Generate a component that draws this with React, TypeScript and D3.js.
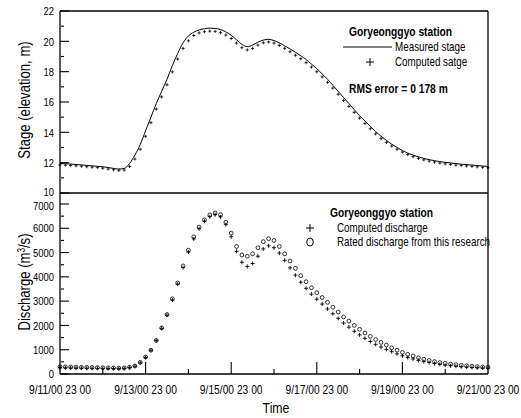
import React from 'react';
import * as d3 from 'd3';

// Hydrograph record, sampled every 3 hours from 9/11/00 23:00 to 9/21/00 23:00
const START = new Date(2000, 8, 11, 23, 0);
const STEP_HOURS = 3;

const measuredStage = [
  11.95, 11.93, 11.91, 11.88, 11.85, 11.82, 11.79, 11.76, 11.73, 11.68,
  11.62, 11.58, 11.62, 11.95, 12.5, 13.2, 14.1, 15.0, 15.9, 16.7,
  17.5, 18.4, 19.2, 19.9, 20.35, 20.6, 20.75, 20.83, 20.87, 20.85,
  20.78, 20.62, 20.4, 20.1, 19.8, 19.65, 19.75, 19.95, 20.08, 20.13,
  20.05, 19.9, 19.7, 19.5, 19.28, 19.05, 18.8, 18.5, 18.2, 17.85,
  17.5, 17.1, 16.7, 16.3, 15.9, 15.5, 15.1, 14.75, 14.4, 14.05,
  13.75, 13.47, 13.22, 13.0, 12.8, 12.63, 12.5, 12.38, 12.28, 12.2,
  12.13, 12.07, 12.02, 11.98, 11.94, 11.9, 11.87, 11.84, 11.81, 11.78,
  11.75,
];

const computedStage = [
  11.92, 11.9, 11.88, 11.86, 11.83, 11.8, 11.77, 11.74, 11.7, 11.65,
  11.6, 11.56, 11.58, 11.82, 12.3, 12.95, 13.8, 14.7, 15.6, 16.4,
  17.2, 18.05, 18.9, 19.6, 20.1, 20.45, 20.62, 20.7, 20.74, 20.72,
  20.64, 20.48, 20.25, 19.95, 19.65, 19.5, 19.6, 19.82, 19.97, 20.02,
  19.95, 19.8, 19.6, 19.38, 19.15, 18.92, 18.66, 18.37, 18.06, 17.72,
  17.36, 16.98, 16.58, 16.18, 15.78, 15.38, 15.0, 14.65, 14.3, 13.97,
  13.67, 13.4, 13.16, 12.95, 12.76, 12.6, 12.46, 12.35, 12.25, 12.17,
  12.1, 12.04, 11.99, 11.95, 11.91, 11.88, 11.85, 11.82, 11.79, 11.76,
  11.73,
];

const ratedDischarge = [
  300, 295, 290, 285, 280, 275, 270, 265, 260, 255,
  250, 245, 250, 280, 330, 480, 700, 980, 1380, 1900,
  2450, 3100, 3750, 4450, 5100, 5650, 6050, 6350, 6550, 6630,
  6560, 6250, 5800, 5250, 4900, 4850, 4950, 5200, 5450, 5570,
  5500, 5250, 4950, 4650, 4350, 4050, 3800, 3550, 3350, 3150,
  2950, 2750, 2550, 2350, 2180, 2000, 1840, 1690, 1550, 1420,
  1300, 1190, 1080, 980, 890, 810, 740, 670, 610, 560,
  510, 470, 440, 410, 385, 360, 340, 320, 305, 290,
  280,
];

const computedDischarge = [
  260, 255, 250, 245, 240, 238, 235, 232, 230, 228,
  225, 222, 230, 265, 320, 460, 680, 980, 1380, 1880,
  2420, 3050, 3700, 4380, 5020, 5560, 5980, 6290, 6480, 6560,
  6470, 6150, 5650, 5050, 4600, 4430, 4550, 4850, 5150, 5280,
  5200, 4980, 4680, 4370, 4070, 3780, 3530, 3290, 3080, 2880,
  2680, 2480, 2290, 2100, 1930, 1760, 1610, 1470, 1340, 1220,
  1110, 1010, 920, 830, 750, 680, 620, 560, 510, 470,
  430, 395, 365, 340, 320, 300, 285, 270, 258, 248,
  240,
];

const stageTicks = [10, 12, 14, 16, 18, 20, 22];
const dischargeTicks = [0, 1000, 2000, 3000, 4000, 5000, 6000, 7000];
const dateTickLabels = [
  '9/11/00 23 00', '9/13/00 23 00', '9/15/00 23 00',
  '9/17/00 23 00', '9/19/00 23 00', '9/21/00 23 00',
];

const FONT = '"Liberation Sans", Arial, sans-serif';
const SQUEEZE = 0.82;

const W = 521;
const H = 418;
const LEFT = 60;
const RIGHT = 488;
const TOP = 11;
const MID = 193;
const BOTTOM = 374;

const timeAt = (i: number) => d3.timeHour.offset(START, i * STEP_HOURS);
const END = d3.timeDay.offset(START, 10);

const x = d3.scaleTime().domain([START, END]).range([LEFT, RIGHT]);
const yStage = d3.scaleLinear().domain([10, 22]).range([MID, TOP]);
const yQ = d3.scaleLinear().domain([0, 7000]).range([BOTTOM, 204]);

function Plus({ cx, cy, r, sw = 0.9 }: { cx: number; cy: number; r: number; sw?: number }) {
  return (
    <path
      d={`M${cx - r},${cy}H${cx + r}M${cx},${cy - r}V${cy + r}`}
      stroke="#000"
      strokeWidth={sw}
      fill="none"
    />
  );
}

// Condensed text: horizontally squeezed around its anchor point
function NText({
  x: tx,
  y: ty,
  size,
  anchor = 'start',
  bold = false,
  rotate = false,
  children,
}: {
  x: number;
  y: number;
  size: number;
  anchor?: 'start' | 'middle' | 'end';
  bold?: boolean;
  rotate?: boolean;
  children: React.ReactNode;
}) {
  return (
    <text
      transform={`translate(${tx},${ty})${rotate ? ' rotate(-90)' : ''} scale(${SQUEEZE},1)`}
      textAnchor={anchor}
      fontSize={size}
      fontWeight={bold ? 'bold' : 'normal'}
      fill="#000"
    >
      {children}
    </text>
  );
}

export default function App() {
  const stageLine = d3
    .line<number>()
    .x((_, i) => x(timeAt(i)))
    .y((d) => yStage(d))
    .curve(d3.curveMonotoneX)(measuredStage) as string;

  const days = d3.range(1, 10).map((d) => d3.timeDay.offset(START, d));
  const labelDates = dateTickLabels.map((_, i) => d3.timeDay.offset(START, i * 2));

  const stageMinor = d3.range(11, 22, 2);
  const qMinor = d3.range(500, 7500, 1000);

  // the shared panel boundary crowds "10" and "7000"; nudge them apart
  const stageLabelY = (t: number) => yStage(t) + 4.2 - (t === 10 ? 1.5 : 0);
  const qLabelY = (t: number) => yQ(t) + 4.2 + (t === 7000 ? 1.5 : 0);

  return (
    <svg
      width={W}
      height={H}
      style={{ position: 'absolute', left: 0, top: 0, background: '#fff' }}
      fontFamily={FONT}
    >
      <rect x={0} y={0} width={W} height={H} fill="#fff" />

      {/* panel frames */}
      <g stroke="#000" strokeWidth={1.3} fill="none">
        <line x1={LEFT} y1={TOP} x2={RIGHT} y2={TOP} />
        <line x1={LEFT} y1={MID} x2={RIGHT} y2={MID} />
        <line x1={LEFT} y1={BOTTOM} x2={RIGHT} y2={BOTTOM} />
        <line x1={LEFT} y1={TOP} x2={LEFT} y2={BOTTOM} />
        <line x1={RIGHT} y1={TOP} x2={RIGHT} y2={BOTTOM} />
      </g>

      {/* stage axis */}
      <g stroke="#000" strokeWidth={1.1}>
        {stageTicks.map((t) => (
          <line key={t} x1={LEFT} x2={LEFT + 9} y1={yStage(t)} y2={yStage(t)} />
        ))}
        {stageMinor.map((t) => (
          <line key={t} x1={LEFT + 1} x2={LEFT + 4} y1={yStage(t)} y2={yStage(t)} />
        ))}
      </g>
      {stageTicks.map((t) => (
        <NText key={t} x={54} y={stageLabelY(t)} size={11.5} anchor="end">
          {t}
        </NText>
      ))}

      {/* discharge axis */}
      <g stroke="#000" strokeWidth={1.1}>
        {dischargeTicks.map((t) => (
          <line key={t} x1={LEFT} x2={LEFT + 9} y1={yQ(t)} y2={yQ(t)} />
        ))}
        {qMinor.map((t) => (
          <line key={t} x1={LEFT + 1} x2={LEFT + 4} y1={yQ(t)} y2={yQ(t)} />
        ))}
      </g>
      {dischargeTicks.map((t) => (
        <NText key={t} x={54} y={qLabelY(t)} size={11.5} anchor="end">
          {t}
        </NText>
      ))}

      {/* time axis */}
      <g stroke="#000" strokeWidth={1.1}>
        {days.map((d, i) => (
          <line
            key={i}
            x1={x(d)}
            x2={x(d)}
            y1={BOTTOM}
            y2={BOTTOM - ((i + 1) % 2 === 0 ? 12 : 5)}
          />
        ))}
      </g>
      {dateTickLabels.map((lab, i) => (
        <NText key={lab} x={x(labelDates[i])} y={394} size={12.5} anchor="middle">
          {lab}
        </NText>
      ))}

      {/* axis titles */}
      <NText x={30} y={100} size={16} anchor="middle" rotate>
        Stage (elevation, m)
      </NText>
      <NText x={30} y={282} size={16} anchor="middle" rotate>
        Discharge (m<tspan dy={-5} fontSize={10}>3</tspan>
        <tspan dy={5}>/s)</tspan>
      </NText>
      <NText x={276} y={413} size={15} anchor="middle">
        Time
      </NText>

      {/* stage panel marks */}
      <path d={stageLine} fill="none" stroke="#000" strokeWidth={1} />
      {computedStage.map((v, i) => (
        <Plus key={i} cx={x(timeAt(i))} cy={yStage(v) + 1} r={1.6} sw={0.8} />
      ))}

      {/* discharge panel marks */}
      {computedDischarge.map((v, i) => (
        <Plus key={i} cx={x(timeAt(i))} cy={yQ(v)} r={2} sw={0.9} />
      ))}
      {ratedDischarge.map((v, i) => (
        <circle key={i} cx={x(timeAt(i))} cy={yQ(v)} r={1.9} fill="none" stroke="#000" strokeWidth={0.8} />
      ))}

      {/* stage legend */}
      <NText x={349} y={36} size={12.5} bold>
        Goryeonggyo station
      </NText>
      <line x1={343} x2={392} y1={47} y2={47} stroke="#000" strokeWidth={1.1} />
      <NText x={395} y={51} size={12}>
        Measured stage
      </NText>
      <Plus cx={370} cy={62} r={4} sw={1} />
      <NText x={395} y={66} size={12}>
        Computed satge
      </NText>
      <NText x={349} y={93} size={12.5} bold>
        RMS error = 0 178 m
      </NText>

      {/* discharge legend */}
      <NText x={330} y={217} size={12.5} bold>
        Goryeonggyo station
      </NText>
      <Plus cx={310} cy={228} r={4} sw={1} />
      <NText x={337} y={232} size={12}>
        Computed discharge
      </NText>
      <ellipse cx={310} cy={242} rx={3.3} ry={4} fill="none" stroke="#000" strokeWidth={1} />
      <NText x={337} y={246} size={12}>
        Rated discharge from this research
      </NText>
    </svg>
  );
}
